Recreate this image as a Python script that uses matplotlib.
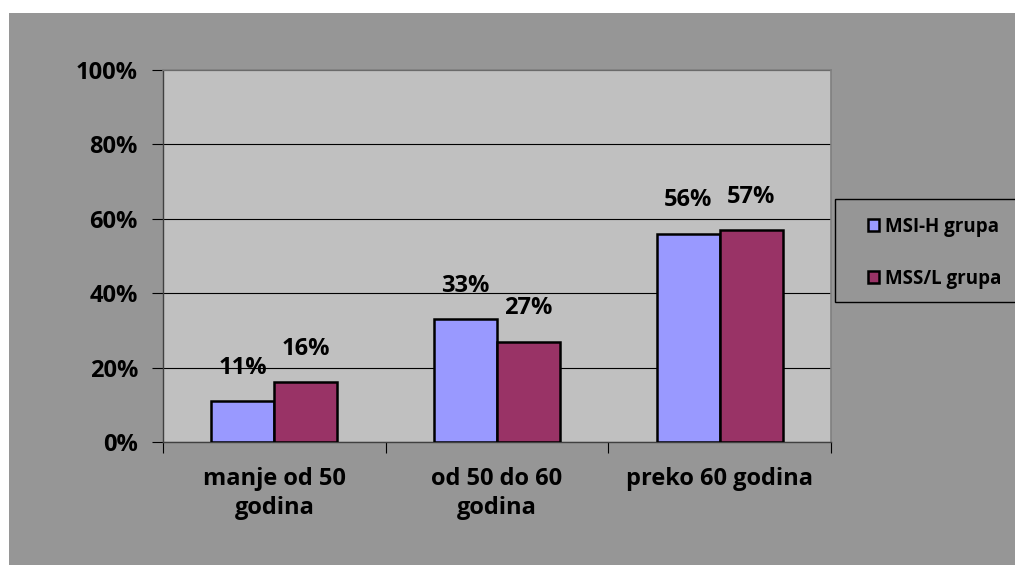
import matplotlib
matplotlib.use("Agg")
import matplotlib.pyplot as plt
import numpy as np
from matplotlib.patches import Rectangle

categories = ["manje od 50\ngodina", "od 50 do 60\ngodina", "preko 60 godina"]
series_names = ["MSI-H grupa", "MSS/L grupa"]
msi_h = [11, 33, 56]
mss_l = [16, 27, 57]
yticks = [0, 20, 40, 60, 80, 100]
ytick_labels = ["0%", "20%", "40%", "60%", "80%", "100%"]

colors = ["#9999ff", "#993366"]
gray = "#969696"
plot_bg = "#c0c0c0"
FS = 17

plt.rcParams['font.family'] = ['Open Sans', 'DejaVu Sans']

fig = plt.figure(figsize=(10.15, 5.65), dpi=100, facecolor="white")
bg = fig.add_axes([0, 0, 1, 1], zorder=-10)
bg.set_xlim(0, 1015)
bg.set_ylim(565, 0)
bg.set_axis_off()
bg.add_patch(Rectangle((9, 13), 1015 - 9, 565 - 13, facecolor=gray, edgecolor="none"))
# legend frame
bg.add_patch(Rectangle((835, 199), 200, 103, facecolor=gray, edgecolor="black", linewidth=1.0))

ax = fig.add_axes([163/1015, (565-442)/565, 668/1015, 372/565])
ax.set_facecolor(plot_bg)

x = np.arange(len(categories))
w = 0.283
b1 = ax.bar(x - w/2, msi_h, w, color=colors[0], edgecolor="black", linewidth=1.8, zorder=3, label=series_names[0])
b2 = ax.bar(x + w/2, mss_l, w, color=colors[1], edgecolor="black", linewidth=1.8, zorder=3, label=series_names[1])

for bars, vals in ((b1, msi_h), (b2, mss_l)):
    for rect, v in zip(bars, vals):
        ax.annotate(f"{v}%", (rect.get_x() + rect.get_width()/2, rect.get_height()),
                    xytext=(0, 24), textcoords="offset points", ha="center", va="center",
                    fontsize=FS, fontweight="bold", color="black", zorder=4)

ax.set_xlim(-0.5, 2.5)
ax.set_ylim(0, 100)
ax.set_yticks(yticks)
ax.set_yticklabels(ytick_labels)
ax.yaxis.grid(True, color="black", linewidth=0.8, zorder=1)
ax.set_axisbelow(True)

ax.set_xticks([-0.5, 0.5, 1.5, 2.5])
ax.set_xticklabels([])
ax.set_xticks(x, minor=True)
ax.set_xticklabels(categories, minor=True, fontsize=FS, fontweight="bold", linespacing=1.3)
ax.tick_params(axis="x", which="minor", length=0, pad=18)
ax.tick_params(axis="x", which="major", length=8, direction="out", color="black")
ax.tick_params(axis="y", length=8, direction="out", pad=10, labelsize=FS)
for lbl in ax.get_yticklabels():
    lbl.set_fontweight("bold")

for s in ("left", "bottom"):
    ax.spines[s].set_color("#404040")
    ax.spines[s].set_linewidth(1.0)
for s in ("top", "right"):
    ax.spines[s].set_color("#808080")
    ax.spines[s].set_linewidth(1.2)

leg = fig.legend(handles=[b1, b2], labels=series_names,
                 loc="upper left", bbox_to_anchor=(864/1015, 1 - 213/565),
                 bbox_transform=fig.transFigure,
                 frameon=False,
                 prop={"weight": "bold", "size": 13.5}, handlelength=0.6, handleheight=0.6,
                 handletextpad=0.3, labelspacing=1.72, borderpad=0.2, borderaxespad=0)
for h in leg.legend_handles:
    h.set_linewidth(1.8)

fig.savefig("out.png", dpi=100, facecolor="white")
